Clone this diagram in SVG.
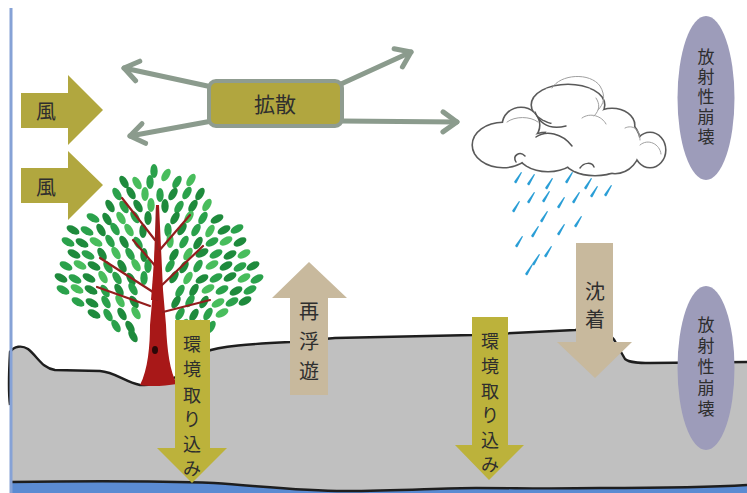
<svg xmlns="http://www.w3.org/2000/svg" xmlns:xlink="http://www.w3.org/1999/xlink" width="747" height="493" viewBox="0 0 747 493">
  <style>
    .lbl{font-family:"Noto Sans CJK JP","Noto Sans",sans-serif;fill:#2e2e2e;text-anchor:middle;dominant-baseline:central}
    .vert{writing-mode:vertical-rl;text-orientation:upright}
    .olive{fill:#b1a73f}
    .yel{fill:#bcb23b}
    .tan{fill:#c8b99d}
    .decay{fill:#9d9cba}
    .spread{fill:none;stroke:#8b9b8d;stroke-width:5;stroke-linecap:round;marker-end:url(#chev)}
    .g1{fill:#1e8a3c}
    .g2{fill:#2aa14b}
    .g3{fill:#48bd5c}
    .br{fill:none;stroke:#931d1d;stroke-width:2.2;stroke-linecap:round}
    .cl{fill:none;stroke:#555;stroke-width:1.5;stroke-linecap:round}
    .cl2{fill:none;stroke:#a0a0a0;stroke-width:1;stroke-linecap:round}
    .drop{fill:#2a9ed6}
  </style>
  <defs>
    <marker id="chev" viewBox="-18 -13 22 26" markerWidth="22" markerHeight="26" refX="0" refY="0" orient="auto" markerUnits="userSpaceOnUse">
      <path d="M-14,-10 L0,0 L-14,10" fill="none" stroke="#8b9b8d" stroke-width="5" stroke-linecap="round" stroke-linejoin="round"/>
    </marker>
    <ellipse id="L0" rx="3.7" ry="7"/>
    <ellipse id="L1" rx="3.7" ry="7" transform="rotate(-30)"/>
    <ellipse id="L2" rx="3.7" ry="7" transform="rotate(30)"/>
    <ellipse id="L3" rx="3.7" ry="7" transform="rotate(-62)"/>
    <ellipse id="L4" rx="3.7" ry="7" transform="rotate(62)"/>
    <!-- slanted rain streak, thicker at the lower end -->
    <path id="rd" d="M3,-6 L4,-5.5 L-1.5,5 A1.6,1.6 0 0 1 -3.8,3.6 Z"/>
  </defs>

  <!-- background -->
  <rect width="747" height="493" fill="#ffffff"/>

  <!-- soil layer and water table -->
  <g id="ground">
    <path d="M10,352 C14,346 22,345 28,349 C38,357 42,368 55,370 L100,371 C115,372 125,382 140,385 C155,386 165,382 178,376 L205,352 C220,346 250,344 290,342 L335,338 C380,337 430,336 473,335 L575,330 C598,328 611,330 617,345 L625,359 C630,363 640,363 650,363 L747,362 L747,493 L10,493 Z" fill="#c0c0c0"/>
    <path d="M10,405 C8,390 9,370 10,352 C14,346 22,345 28,349 C38,357 42,368 55,370 L100,371 C115,372 125,382 140,385 C155,386 165,382 178,376 L205,352 C220,346 250,344 290,342 L335,338 C380,337 430,336 473,335 L575,330 C598,328 611,330 617,345 L625,359 C630,363 640,363 650,363 L747,362" fill="none" stroke="#1e1e1e" stroke-width="2.4" stroke-linejoin="round"/>
    <path d="M10,482 C80,481 160,481 214,483 C260,486 300,491 345,491 C400,491 440,488 476,488 C520,488 540,489 600,488 C660,488 700,488 747,485 L747,493 L10,493 Z" fill="#5b8bd2"/>
    <path d="M10,482 C80,481 160,481 214,483 C260,486 300,491 345,491 C400,491 440,488 476,488 C520,488 540,489 600,488 C660,488 700,488 747,485" fill="none" stroke="#1e1e1e" stroke-width="2.4"/>
    <line x1="11" y1="8" x2="11" y2="493" stroke="#86a2d6" stroke-width="3"/>
  </g>

  <!-- tree -->
  <g id="tree">
    <path d="M140,385 C148,370 150,345 150,325 L153,290 L156,205 L159,205 L163,290 L166,325 C167,350 170,372 177,384 C165,386 150,387 140,385 Z" fill="#a81818"/>
    <g id="leaves">
      <g transform="translate(0,171)"><use href="#L0" x="154" class="g2"/><use href="#L2" x="166" y="4" class="g3"/></g>
      <g transform="translate(0,182)"><use href="#L1" x="124" class="g1"/><use href="#L1" x="137" y="1" class="g3"/><use href="#L0" x="150" class="g2"/><use href="#L2" x="177" class="g2"/><use href="#L2" x="191" y="-2" class="g3"/></g>
      <g transform="translate(0,194)"><use href="#L1" x="117" class="g2"/><use href="#L1" x="131" y="-1" class="g1"/><use href="#L0" x="145" class="g3"/><use href="#L0" x="160" y="1" class="g2"/><use href="#L2" x="173" class="g1"/><use href="#L2" x="187" y="-1" class="g2"/><use href="#L2" x="200" class="g1"/></g>
      <g transform="translate(0,206)"><use href="#L1" x="110" class="g1"/><use href="#L1" x="124" y="1" class="g2"/><use href="#L1" x="138" class="g1"/><use href="#L0" x="151" y="-1" class="g3"/><use href="#L0" x="165" class="g1"/><use href="#L2" x="179" y="1" class="g2"/><use href="#L2" x="193" class="g1"/><use href="#L2" x="207" y="-1" class="g3"/></g>
      <g transform="translate(0,218)"><use href="#L3" x="93" class="g2"/><use href="#L1" x="107" y="1" class="g1"/><use href="#L1" x="121" class="g3"/><use href="#L1" x="135" y="-1" class="g2"/><use href="#L0" x="148" class="g1"/><use href="#L2" x="175" class="g1"/><use href="#L2" x="189" y="-1" class="g3"/><use href="#L2" x="203" class="g2"/><use href="#L4" x="217" y="1" class="g1"/></g>
      <g transform="translate(0,230)"><use href="#L3" x="73" class="g1"/><use href="#L3" x="87" y="1" class="g2"/><use href="#L1" x="101" class="g1"/><use href="#L1" x="115" y="-1" class="g2"/><use href="#L1" x="129" class="g3"/><use href="#L0" x="143" y="1" class="g1"/><use href="#L0" x="168" class="g2"/><use href="#L2" x="182" y="-1" class="g1"/><use href="#L2" x="196" class="g2"/><use href="#L2" x="210" y="1" class="g3"/><use href="#L4" x="224" class="g1"/><use href="#L4" x="237" y="-1" class="g2"/></g>
      <g transform="translate(0,242)"><use href="#L3" x="68" class="g2"/><use href="#L3" x="82" y="1" class="g1"/><use href="#L3" x="96" class="g3"/><use href="#L1" x="110" y="-1" class="g2"/><use href="#L1" x="124" class="g1"/><use href="#L1" x="138" y="1" class="g2"/><use href="#L0" x="170" y="-1" class="g3"/><use href="#L2" x="184" class="g2"/><use href="#L2" x="198" y="1" class="g1"/><use href="#L4" x="212" class="g2"/><use href="#L4" x="226" y="-1" class="g3"/><use href="#L4" x="240" class="g1"/></g>
      <g transform="translate(0,254)"><use href="#L3" x="74" class="g1"/><use href="#L3" x="88" y="1" class="g2"/><use href="#L1" x="102" class="g1"/><use href="#L1" x="116" y="-1" class="g3"/><use href="#L1" x="130" class="g2"/><use href="#L0" x="144" y="1" class="g1"/><use href="#L2" x="174" y="1" class="g1"/><use href="#L2" x="188" class="g3"/><use href="#L4" x="202" y="-1" class="g1"/><use href="#L4" x="216" class="g2"/><use href="#L4" x="230" y="1" class="g1"/><use href="#L4" x="244" class="g3"/></g>
      <g transform="translate(0,266)"><use href="#L3" x="66" class="g2"/><use href="#L3" x="80" y="-1" class="g3"/><use href="#L3" x="94" class="g1"/><use href="#L1" x="108" y="1" class="g2"/><use href="#L1" x="122" class="g1"/><use href="#L1" x="136" y="-1" class="g3"/><use href="#L0" x="148" class="g2"/><use href="#L2" x="170" class="g2"/><use href="#L2" x="184" y="1" class="g1"/><use href="#L2" x="198" class="g2"/><use href="#L4" x="212" y="-1" class="g3"/><use href="#L4" x="226" class="g1"/><use href="#L4" x="240" y="1" class="g2"/><use href="#L4" x="253" class="g1"/></g>
      <g transform="translate(0,278)"><use href="#L3" x="61" class="g1"/><use href="#L3" x="75" y="1" class="g2"/><use href="#L3" x="89" class="g1"/><use href="#L1" x="103" y="-1" class="g3"/><use href="#L1" x="117" class="g2"/><use href="#L1" x="131" y="1" class="g1"/><use href="#L0" x="144" class="g2"/><use href="#L2" x="174" y="-1" class="g1"/><use href="#L2" x="188" class="g3"/><use href="#L4" x="202" y="1" class="g1"/><use href="#L4" x="216" class="g2"/><use href="#L4" x="230" y="-1" class="g1"/><use href="#L4" x="244" class="g3"/><use href="#L4" x="257" y="1" class="g2"/></g>
      <g transform="translate(0,290)"><use href="#L3" x="63" class="g2"/><use href="#L3" x="77" y="-1" class="g3"/><use href="#L3" x="91" class="g1"/><use href="#L1" x="105" y="1" class="g2"/><use href="#L1" x="119" class="g1"/><use href="#L1" x="133" y="-1" class="g2"/><use href="#L2" x="180" y="1" class="g2"/><use href="#L2" x="194" class="g1"/><use href="#L4" x="208" y="-1" class="g3"/><use href="#L4" x="222" class="g2"/><use href="#L4" x="236" y="1" class="g1"/><use href="#L4" x="250" class="g2"/></g>
      <g transform="translate(0,302)"><use href="#L3" x="78" class="g2"/><use href="#L3" x="92" y="1" class="g1"/><use href="#L1" x="106" class="g2"/><use href="#L1" x="120" y="-1" class="g3"/><use href="#L1" x="134" class="g1"/><use href="#L2" x="176" class="g1"/><use href="#L2" x="190" y="-1" class="g2"/><use href="#L2" x="204" class="g1"/><use href="#L4" x="218" y="1" class="g3"/><use href="#L4" x="232" class="g2"/><use href="#L4" x="245" y="-1" class="g1"/></g>
      <g transform="translate(0,314)"><use href="#L3" x="94" class="g1"/><use href="#L1" x="108" y="1" class="g2"/><use href="#L1" x="122" class="g1"/><use href="#L1" x="136" y="-1" class="g3"/><use href="#L2" x="180" class="g2"/><use href="#L2" x="194" y="1" class="g1"/><use href="#L2" x="208" class="g2"/><use href="#L4" x="222" y="-1" class="g3"/></g>
      <g transform="translate(0,326)"><use href="#L1" x="116" class="g2"/><use href="#L1" x="130" y="1" class="g1"/><use href="#L2" x="184" y="-1" class="g3"/><use href="#L2" x="198" class="g1"/><use href="#L2" x="211" y="1" class="g2"/></g>
      <g transform="translate(0,336)"><use href="#L1" x="133" class="g1"/><use href="#L2" x="190" class="g2"/></g>
    </g>
    <!-- branches over the foliage -->
    <path class="br" d="M157,208 L157,300"/>
    <path class="br" d="M155,240 L122,198"/>
    <path class="br" d="M158,252 L190,215"/>
    <path class="br" d="M153,292 L100,258"/>
    <path class="br" d="M150,306 L97,287"/>
    <path class="br" d="M161,286 L203,246"/>
    <path class="br" d="M163,312 L210,300"/>
    <path class="br" d="M157,268 L133,240"/>
    <path d="M155,250 L159,250 L163,300 L151,300 Z" fill="#a81818"/>
    <ellipse cx="155" cy="350" rx="3" ry="4" fill="#2a0808"/>
  </g>

  <!-- rain cloud -->
  <g id="cloud">
    <g stroke="#5a5a5a" stroke-width="3.2" fill="none">
      <ellipse cx="503" cy="145" rx="30" ry="22"/>
      <ellipse cx="521" cy="125" rx="18" ry="17"/>
      <ellipse cx="568" cy="105" rx="36" ry="20"/>
      <ellipse cx="612" cy="125" rx="22" ry="16"/>
      <ellipse cx="615" cy="145" rx="25" ry="28"/>
      <ellipse cx="650" cy="150" rx="15" ry="17"/>
      <ellipse cx="548" cy="152" rx="30" ry="19"/>
      <ellipse cx="595" cy="160" rx="30" ry="15"/>
    </g>
    <g fill="#ffffff">
      <ellipse cx="503" cy="145" rx="30" ry="22"/>
      <ellipse cx="521" cy="125" rx="18" ry="17"/>
      <ellipse cx="568" cy="105" rx="36" ry="20"/>
      <ellipse cx="612" cy="125" rx="22" ry="16"/>
      <ellipse cx="615" cy="145" rx="25" ry="28"/>
      <ellipse cx="650" cy="150" rx="15" ry="17"/>
      <ellipse cx="548" cy="152" rx="30" ry="19"/>
      <ellipse cx="595" cy="160" rx="30" ry="15"/>
      <ellipse cx="580" cy="138" rx="35" ry="25"/>
    </g>
    <path class="cl2" d="M552,88 C560,74 590,72 600,86 C606,96 604,104 598,110"/>
    <path class="cl" d="M535,112 C540,124 550,130 566,126"/>
    <path class="cl" d="M536,137 C546,130 562,133 572,146"/>
    <path class="cl" d="M516,162 C512,155 520,151 525,156"/>
    <path class="cl" d="M580,168 C584,162 592,162 594,167"/>
    <path class="cl2" d="M582,118 C590,112 602,116 606,124"/>
    <path class="cl2" d="M625,128 C633,124 640,130 640,140"/>
    <path class="cl2" d="M640,145 C648,138 660,144 661,154"/>
    <path class="cl2" d="M507,122 C515,116 530,116 538,122"/>
    <path class="cl2" d="M596,98 C600,104 600,110 594,116"/>
  </g>

  <!-- rain drops -->
  <g id="rain" class="drop">
    <use href="#rd" x="518" y="178"/>
    <use href="#rd" x="531" y="180"/>
    <use href="#rd" x="549" y="184"/>
    <use href="#rd" x="569" y="178"/>
    <use href="#rd" x="588" y="184"/>
    <use href="#rd" x="516" y="207"/>
    <use href="#rd" x="531" y="198"/>
    <use href="#rd" x="546" y="197"/>
    <use href="#rd" x="561" y="203"/>
    <use href="#rd" x="576" y="198"/>
    <use href="#rd" x="594" y="192"/>
    <use href="#rd" x="608" y="191"/>
    <use href="#rd" x="544" y="217"/>
    <use href="#rd" x="535" y="232"/>
    <use href="#rd" x="561" y="230"/>
    <use href="#rd" x="578" y="222"/>
    <use href="#rd" x="519" y="242"/>
    <use href="#rd" x="548" y="252"/>
    <use href="#rd" x="536" y="260"/>
    <use href="#rd" x="529" y="270"/>
  </g>

  <!-- spreading arrows -->
  <g id="connectors">
    <line class="spread" x1="212" y1="87" x2="124" y2="68"/>
    <line class="spread" x1="212" y1="121" x2="130" y2="136"/>
    <line class="spread" x1="341" y1="84" x2="411" y2="52"/>
    <line class="spread" x1="341" y1="121" x2="457" y2="122"/>
  </g>

  <g id="spread">
    <rect x="209" y="81" width="133" height="45" rx="7" fill="#b1a63f" stroke="#8f9c90" stroke-width="4"/>
    <text class="lbl" x="275" y="103" font-size="21">拡散</text>
  </g>

  <g id="wind1">
    <path class="olive" d="M21,93 H68 V75 L103,110 L68,145 V128 H21 Z"/>
    <text class="lbl" x="46" y="110" font-size="20">風</text>
  </g>
  <g id="wind2">
    <path class="olive" d="M21,168 H68 V151 L103,185 L68,220 V203 H21 Z"/>
    <text class="lbl" x="46" y="186" font-size="20">風</text>
  </g>

  <g id="uptake1">
    <path class="yel" d="M175,320 H210 V448 H227 L192,483 L157,448 H175 Z"/>
    <text class="lbl" font-size="18"><tspan x="192" y="343">環</tspan><tspan x="192" y="368">境</tspan><tspan x="192" y="394">取</tspan><tspan x="192" y="418">り</tspan><tspan x="192" y="443">込</tspan><tspan x="192" y="467">み</tspan></text>
  </g>

  <g id="uptake2">
    <path class="yel" d="M472,317 H508 V445 H524 L489,480 L455,445 H472 Z"/>
    <text class="lbl" font-size="18"><tspan x="490" y="340">環</tspan><tspan x="490" y="365">境</tspan><tspan x="490" y="390">取</tspan><tspan x="490" y="414">り</tspan><tspan x="490" y="439">込</tspan><tspan x="490" y="463">み</tspan></text>
  </g>

  <g id="resuspension">
    <path class="tan" d="M309,262 L347,298 H328 V395 H290 V298 H272 Z"/>
    <text class="lbl" font-size="20"><tspan x="309" y="310">再</tspan><tspan x="309" y="340">浮</tspan><tspan x="309" y="370">遊</tspan></text>
  </g>

  <g id="deposition">
    <path class="tan" d="M576,243 H613 V342 H632 L595,378 L557,342 H576 Z"/>
    <text class="lbl" font-size="20"><tspan x="595" y="290">沈</tspan><tspan x="595" y="318">着</tspan></text>
  </g>

  <g id="decay1">
    <ellipse class="decay" cx="706" cy="98" rx="28.5" ry="82"/>
    <text class="lbl vert" x="706" y="98" font-size="17" letter-spacing="3">放射性崩壊</text>
  </g>

  <g id="decay2">
    <ellipse class="decay" cx="706" cy="368" rx="28.5" ry="82"/>
    <text class="lbl vert" x="706" y="369" font-size="17" letter-spacing="4">放射性崩壊</text>
  </g>
</svg>
